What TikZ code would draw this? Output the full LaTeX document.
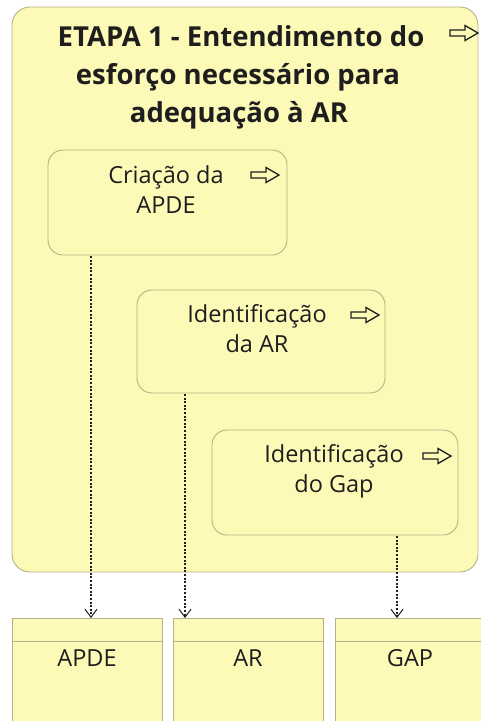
\documentclass[tikz,border=0pt]{standalone}
\usepackage{fontspec}
\setmainfont{Open Sans}
\usetikzlibrary{arrows.meta}
\definecolor{fillY}{RGB}{253,249,182}
\definecolor{edgeY}{RGB}{180,178,135}
\definecolor{ink}{RGB}{30,30,30}
\tikzset{
  lane/.style={draw=edgeY, fill=fillY, line width=0.9pt, rounded corners=18pt},
  actbox/.style={draw=edgeY, fill=fillY, line width=0.9pt, rounded corners=15pt},
  objbox/.style={draw=edgeY, fill=fillY, line width=0.9pt},
  lbl/.style={font=\fontsize{23.5}{27}\selectfont, text=ink, anchor=base, inner sep=0pt},
  ttl/.style={font=\fontsize{27.5}{30}\selectfont\bfseries, text=ink, anchor=base, inner sep=0pt},
  flow/.style={draw=ink, line width=1.3pt, dash pattern=on 2pt off 1.6pt, -{Straight Barb[length=8pt,width=12pt,line width=1pt]}},
  pics/fwd/.style={code={
    \draw[ink, line width=1.3pt, line join=miter, fill=fillY]
      (-14,-3) -- (1,-3) -- (1,-7.5) -- (14,0) -- (1,7.5) -- (1,3) -- (-14,3) -- cycle;
  }},
}
\begin{document}
\begin{tikzpicture}[x=1pt,y=-1pt]
\useasboundingbox (0,0) rectangle (481,721);
\fill[white] (0,0) rectangle (481,721);
% outer lane
\draw[lane] (12,7) rectangle (478,572);
\node[ttl] (title1) at (241,46) {ETAPA 1 - Entendimento do};
\node[ttl] (title2) at (238,84) {esforço necessário para};
\node[ttl] (title3) at (239,122) {adequação à AR};
\pic (titlearrow) at (464,33) {fwd};
% activities
\draw[actbox] (48,150) rectangle (287,255);
\node[lbl] (t1a) at (166,183) {Criação da};
\node[lbl] (t1b) at (166,213) {APDE};
\pic (a1) at (265,175) {fwd};
\draw[actbox] (137,290) rectangle (385,393);
\node[lbl] (t2a) at (257,322) {Identificação};
\node[lbl] (t2b) at (257,352) {da AR};
\pic (a2) at (365,315) {fwd};
\draw[actbox] (212,430) rectangle (458,535);
\node[lbl] (t3a) at (334,462) {Identificação};
\node[lbl] (t3b) at (334,492) {do Gap};
\pic (a3) at (437,456) {fwd};
% objects
\draw[objbox] (12,618) rectangle (162,730);
\draw[edgeY, line width=0.9pt] (12,641) -- (162,641);
\node[lbl] (o1) at (87,666) {APDE};
\draw[objbox] (173,618) rectangle (323,730);
\draw[edgeY, line width=0.9pt] (173,641) -- (323,641);
\node[lbl] (o2) at (248,666) {AR};
\draw[objbox] (335,618) rectangle (490,730);
\draw[edgeY, line width=0.9pt] (335,641) -- (490,641);
\node[lbl] (o3) at (410,666) {GAP};
% anchors for connectors
\coordinate (s1) at (91,256);
\coordinate (e1) at (91,618);
\coordinate (s2) at (185,394);
\coordinate (e2) at (185,618);
\coordinate (s3) at (397,536);
\coordinate (e3) at (397,618);
\draw[flow] (s1) -- (e1);
\draw[flow] (s2) -- (e2);
\draw[flow] (s3) -- (e3);
\end{tikzpicture}
\end{document}
